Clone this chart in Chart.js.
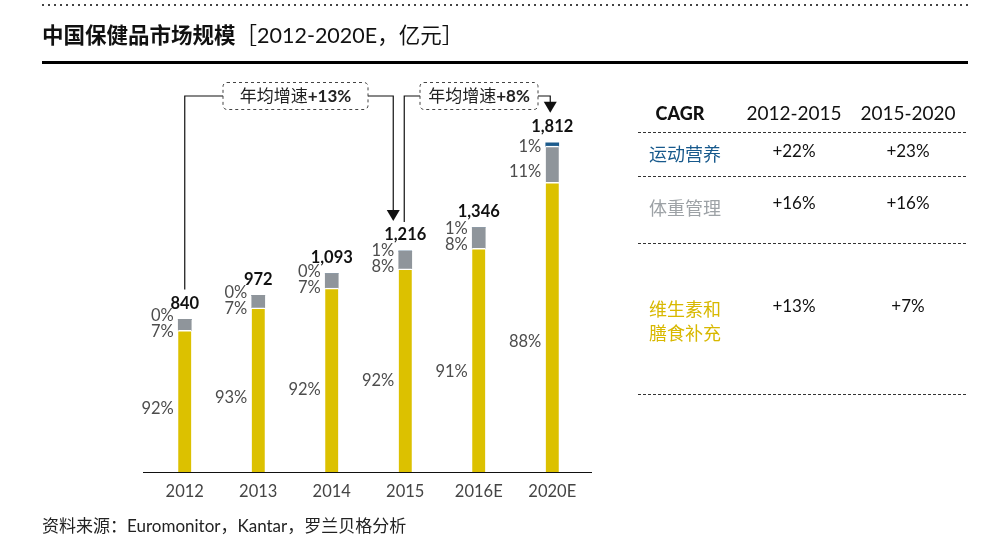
<!DOCTYPE html>
<html>
<head>
<meta charset="utf-8">
<script src="https://cdn.jsdelivr.net/npm/chart.js"></script>
<style>
  body { margin: 0; background: #fff; font-family: Lato, "Noto Sans CJK SC", sans-serif; }
  #wrap { position: relative; width: 1008px; height: 551px; overflow: hidden; }
  #wrap canvas { position: absolute; left: 0; top: 0; }
  .abs { position: absolute; white-space: nowrap; }
  .dots { position: absolute; height: 2px;
    background-image: linear-gradient(to right, #444 2px, transparent 2px);
    background-size: 6px 2px; }
  .dash { position: absolute; height: 1px; left: 638px; width: 330px;
    background-image: linear-gradient(to right, #333 3px, transparent 3px);
    background-size: 5px 1px; }
  .cell { position: absolute; width: 120px; text-align: center; font-size: 17px; color: #111; }
  .rowlab { position: absolute; left: 649px; font-size: 18px; font-family: 'Noto Sans CJK SC'; }
</style>
</head>
<body>
<div id="wrap">
  <canvas id="chart" width="1008" height="551"></canvas>

  <div class="dots" style="left:42px; top:4px; width:926px;"></div>
  <div class="abs" style="left:42px; top:18px; font-size:21.5px; color:#111;">
    <span style="font-weight:700; font-family:'Noto Sans CJK SC';">中国保健品市场规模</span><span style="font-family:Lato,'Noto Sans CJK SC';">［2012-2020E，亿元］</span>
  </div>
  <div class="abs" style="left:42px; top:61px; width:926px; height:3px; background:#000;"></div>

  <!-- CAGR 表 -->
  <div class="cell" style="left:620px; top:102px; font-weight:900; font-size:18px;">CAGR</div>
  <div class="cell" style="left:734px; top:101px; font-size:19px;">2012-2015</div>
  <div class="cell" style="left:848px; top:101px; font-size:19px;">2015-2020</div>
  <div class="dash" style="top:132px;"></div>
  <div class="rowlab" style="top:140px; color:#17598c;">运动营养</div>
  <div class="cell" style="left:734px; top:140px;">+22%</div>
  <div class="cell" style="left:848px; top:140px;">+23%</div>
  <div class="dash" style="top:176px;"></div>
  <div class="rowlab" style="top:194px; color:#9da2a6;">体重管理</div>
  <div class="cell" style="left:734px; top:192px;">+16%</div>
  <div class="cell" style="left:848px; top:192px;">+16%</div>
  <div class="dash" style="top:243px;"></div>
  <div class="rowlab" style="top:296px; line-height:24px; color:#d8b800;">维生素和<br>膳食补充</div>
  <div class="cell" style="left:734px; top:295px;">+13%</div>
  <div class="cell" style="left:848px; top:295px;">+7%</div>
  <div class="dash" style="top:394px;"></div>

  <div class="abs" style="left:42px; top:512px; font-size:17px; color:#222;">资料来源：Euromonitor，Kantar，罗兰贝格分析</div>
</div>

<script>
// ---------------------------------------------
// 数据（亿元）
// ---------------------------------------------
const years = ['2012', '2013', '2014', '2015', '2016E', '2020E'];
const totals = [840, 972, 1093, 1216, 1346, 1812];
const vitamins = [780, 904, 1013, 1119, 1232, 1595];   // 维生素和膳食补充
const weightMgmt = [60, 68, 80, 97, 114, 199];         // 体重管理
const sportsNutr = [0, 0, 0, 0, 0, 18];                // 运动营养
const vitaminPct = ['92%', '93%', '92%', '92%', '91%', '88%'];
const weightPct = ['7%', '7%', '7%', '8%', '8%', '11%'];
const sportsPct = ['0%', '0%', '0%', '1%', '1%', '1%'];
const growthText = ['年均增速', '年均增速'];
const growthRates = ['+13%', '+8%'];

const YELLOW = '#dcc100';
const GREY = '#8f959b';
const BLUE = '#1c5b8c';
const NUM_FONT = "Lato, 'Noto Sans CJK SC', sans-serif";

// 标签 + 年均增速标注，全部通过 scale 取坐标
const labelsPlugin = {
  id: 'barLabels',
  afterDatasetsDraw(chart) {
    const { ctx, scales: { x, y } } = chart;
    ctx.save();
    years.forEach((_, i) => {
      const cx = x.getPixelForValue(i);
      const y0 = y.getPixelForValue(0);
      const yV = y.getPixelForValue(vitamins[i]);
      const yW = y.getPixelForValue(vitamins[i] + weightMgmt[i]);
      const yT = y.getPixelForValue(totals[i]);
      const rx = cx - 11;

      ctx.fillStyle = '#4d4d4d';
      ctx.font = `16.5px ${NUM_FONT}`;
      ctx.textAlign = 'right';
      ctx.textBaseline = 'middle';
      ctx.fillText(vitaminPct[i], rx, y0 - 0.45 * (y0 - yV));
      const wy = (yV + yW) / 2 + 7;
      ctx.fillText(weightPct[i], rx, wy);
      ctx.fillText(sportsPct[i], rx, Math.min((yW + yT) / 2 + 2, wy - 16));

      ctx.fillStyle = '#111';
      ctx.font = `700 16.5px ${NUM_FONT}`;
      ctx.textAlign = 'center';
      ctx.fillText(totals[i].toLocaleString('en-US'), cx, yT - 16);
    });

    // 年均增速标注
    const lineY = 96;
    const topOf = (i) => y.getPixelForValue(totals[i]) - 30;
    const arrow = (ax, tipY) => {
      ctx.beginPath();
      ctx.moveTo(ax - 6.5, tipY - 11);
      ctx.lineTo(ax + 6.5, tipY - 11);
      ctx.lineTo(ax, tipY);
      ctx.closePath();
      ctx.fill();
    };
    const box = (x1, x2, k) => {
      ctx.save();
      ctx.setLineDash([3, 3]);
      ctx.strokeStyle = '#444';
      ctx.lineWidth = 1;
      ctx.beginPath();
      ctx.roundRect(x1, lineY - 13.5, x2 - x1, 27, 4);
      ctx.stroke();
      ctx.restore();
      ctx.fillStyle = '#222';
      ctx.textBaseline = 'middle';
      ctx.textAlign = 'left';
      const f1 = `17px ${NUM_FONT}`;
      const f2 = `700 17px ${NUM_FONT}`;
      ctx.font = f1;
      const w1 = ctx.measureText(growthText[k]).width;
      ctx.font = f2;
      const w2 = ctx.measureText(growthRates[k]).width;
      const sx = (x1 + x2) / 2 - (w1 + w2) / 2;
      ctx.font = f1;
      ctx.fillText(growthText[k], sx, lineY + 1);
      ctx.font = f2;
      ctx.fillText(growthRates[k], sx + w1, lineY + 1);
    };

    ctx.strokeStyle = '#111';
    ctx.fillStyle = '#111';
    ctx.lineWidth = 1.2;

    // 2012 -> 2015
    const a1 = x.getPixelForValue(0);
    const b1 = x.getPixelForValue(3) - 12;
    const box1 = [223, 368];
    ctx.beginPath();
    ctx.moveTo(a1, topOf(0));
    ctx.lineTo(a1, lineY);
    ctx.lineTo(box1[0], lineY);
    ctx.moveTo(box1[1], lineY);
    ctx.lineTo(b1, lineY);
    ctx.lineTo(b1, topOf(3) - 10);
    ctx.stroke();
    arrow(b1, topOf(3));
    box(box1[0], box1[1], 0);

    // 2015 -> 2020E
    ctx.strokeStyle = '#111';
    ctx.fillStyle = '#111';
    const a2 = x.getPixelForValue(3) - 1;
    const b2 = x.getPixelForValue(5) - 2;
    const box2 = [420, 538];
    ctx.beginPath();
    ctx.moveTo(a2, topOf(3) + 1);
    ctx.lineTo(a2, lineY);
    ctx.lineTo(box2[0], lineY);
    ctx.moveTo(box2[1], lineY);
    ctx.lineTo(b2, lineY);
    ctx.lineTo(b2, topOf(5) - 10);
    ctx.stroke();
    arrow(b2, topOf(5));
    box(box2[0], box2[1], 1);

    // x 轴基线（左右略微伸出）
    ctx.strokeStyle = '#111';
    ctx.lineWidth = 1.2;
    ctx.beginPath();
    ctx.moveTo(chart.chartArea.left - 5, y.getPixelForValue(0) + 0.5);
    ctx.lineTo(chart.chartArea.right + 3, y.getPixelForValue(0) + 0.5);
    ctx.stroke();
    ctx.restore();
  }
};

new Chart(document.getElementById('chart'), {
  type: 'bar',
  data: {
    labels: years,
    datasets: [
      {
        label: '维生素和膳食补充',
        data: vitamins,
        backgroundColor: YELLOW,
        borderColor: '#fff',
        borderWidth: { top: 1.5, left: 0, right: 0, bottom: 0 },
        borderSkipped: 'bottom',
        barThickness: 13
      },
      {
        label: '体重管理',
        data: weightMgmt,
        backgroundColor: GREY,
        borderColor: '#fff',
        borderWidth: (c) => sportsNutr[c.dataIndex] > 0
          ? { top: 1.5, left: 0, right: 0, bottom: 0 } : 0,
        borderSkipped: 'bottom',
        barThickness: 13
      },
      {
        label: '运动营养',
        data: sportsNutr,
        backgroundColor: BLUE,
        borderWidth: 0,
        barThickness: 13
      }
    ]
  },
  options: {
    responsive: false,
    animation: false,
    events: [],
    layout: { padding: { left: 148, right: 419, top: 108.7, bottom: 39.2 } },
    plugins: { legend: { display: false }, tooltip: { enabled: false } },
    scales: {
      x: {
        stacked: true,
        grid: { display: false, drawTicks: false },
        border: { display: false },
        ticks: { color: '#444', font: { family: NUM_FONT, size: 16.5 }, padding: 10 }
      },
      y: {
        stacked: true,
        display: false,
        min: 0,
        max: 2000
      }
    }
  },
  plugins: [labelsPlugin]
});
</script>
</body>
</html>
